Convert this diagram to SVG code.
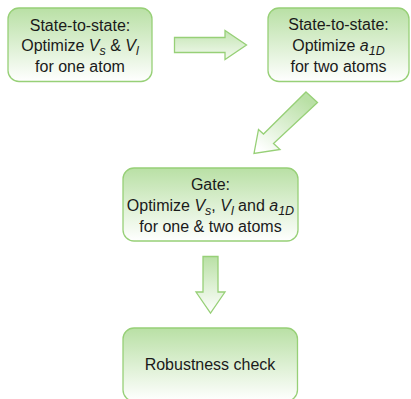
<svg xmlns="http://www.w3.org/2000/svg" width="411" height="399" viewBox="0 0 411 399">
  <defs>
    <linearGradient id="greenFill" x1="0" y1="0" x2="0" y2="1">
      <stop offset="0" stop-color="#b9e0a5"/>
      <stop offset="1" stop-color="#ffffff"/>
    </linearGradient>
    <linearGradient id="arrowFillH" x1="0" y1="0" x2="0" y2="1">
      <stop offset="0" stop-color="#c3e5b2"/>
      <stop offset="1" stop-color="#f4faf1"/>
    </linearGradient>
    <linearGradient id="arrowFillD" gradientUnits="userSpaceOnUse" x1="300" y1="95" x2="260" y2="150">
      <stop offset="0" stop-color="#b9e0a5"/>
      <stop offset="1" stop-color="#ffffff"/>
    </linearGradient>
    <linearGradient id="arrowFillV" x1="0" y1="0" x2="0" y2="1">
      <stop offset="0" stop-color="#b9e0a5"/>
      <stop offset="1" stop-color="#ffffff"/>
    </linearGradient>
  </defs>
  <style>
    .box { fill: url(#greenFill); stroke: #97d077; stroke-width: 1.3; }
    .arrow { stroke: #97d077; stroke-width: 1.3; stroke-linejoin: miter; }
    text { font-family: "Liberation Sans", Arial, sans-serif; font-size: 16px; fill: #1a1a1a; text-anchor: middle; }
    .it { font-style: italic; }
    .sub { font-size: 12.5px; font-style: italic; }
  </style>

  <g id="connectors">
    <polygon class="arrow" fill="url(#arrowFillH)" points="174.5,37.5 225,37.5 225,30.5 246.5,45 225,59.5 225,52.5 174.5,52.5"/>
    <polygon class="arrow" fill="url(#arrowFillD)" points="306,92 317.5,102.5 273.5,143.5 280,149.5 254,153.5 258.5,129.5 263.5,134"/>
    <polygon class="arrow" fill="url(#arrowFillV)" points="203,256.5 218,256.5 218,292 225,292 210.5,313 196,292 203,292"/>
  </g>

  <g id="node-state-one-atom">
    <rect class="box" x="8" y="8" width="144" height="73.5" rx="11"/>
    <text x="80" y="31">State-to-state:</text>
    <text x="80" y="51">Optimize <tspan class="it">V</tspan><tspan class="sub" dy="4">s</tspan><tspan dy="-4"> &amp; </tspan><tspan class="it">V</tspan><tspan class="sub" dy="4">l</tspan></text>
    <text x="80" y="71.5">for one atom</text>
  </g>

  <g id="node-state-two-atoms">
    <rect class="box" x="268" y="8" width="141" height="73.5" rx="11"/>
    <text x="338.5" y="30">State-to-state:</text>
    <text x="338.5" y="50.5">Optimize <tspan class="it">a</tspan><tspan class="sub" dy="4">1D</tspan></text>
    <text x="338.5" y="72">for two atoms</text>
  </g>

  <g id="node-gate">
    <rect class="box" x="123" y="168" width="175" height="73" rx="11"/>
    <text x="210.5" y="190">Gate:</text>
    <text x="210.5" y="210.5">Optimize <tspan class="it">V</tspan><tspan class="sub" dy="4">s</tspan><tspan dy="-4">, </tspan><tspan class="it">V</tspan><tspan class="sub" dy="4">l</tspan><tspan dy="-4"> and </tspan><tspan class="it">a</tspan><tspan class="sub" dy="4">1D</tspan></text>
    <text x="210.5" y="232">for one &amp; two atoms</text>
  </g>

  <g id="node-robustness">
    <rect class="box" x="123" y="328" width="174.5" height="73" rx="11"/>
    <text x="210" y="369.5">Robustness check</text>
  </g>
</svg>
